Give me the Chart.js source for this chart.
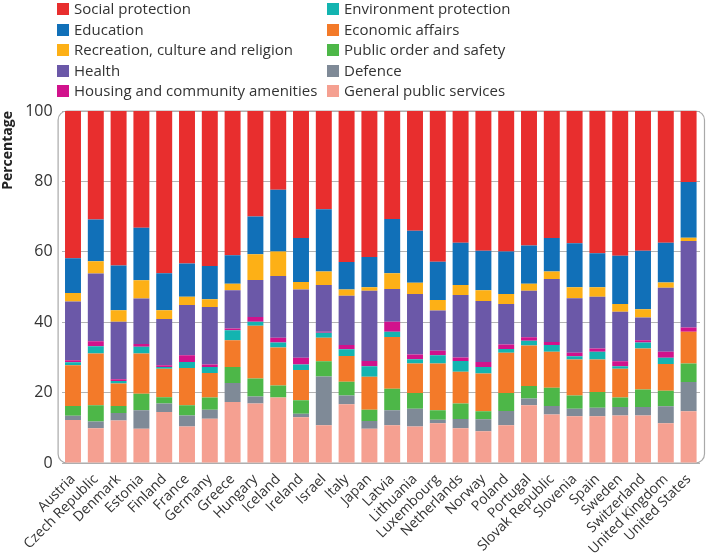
<!DOCTYPE html>
<html>
<head>
<meta charset="utf-8">
<script src="https://cdn.jsdelivr.net/npm/chart.js@4/dist/chart.umd.min.js"></script>
<style>
  body { margin: 0; background: #fff; }
  #wrap { position: relative; width: 706px; height: 555px; }
  #legend { position: absolute; left: 0; top: 0; width: 706px; height: 100px; font-family: "Open Sans", sans-serif; font-size: 15px; color: #333; }
  .item { position: absolute; height: 20px; line-height: 20px; white-space: nowrap; }
  .box { position: absolute; left: 0; top: 4px; width: 12px; height: 12px; }
  .lbl { position: absolute; left: 17px; top: -1px; }
</style>
</head>
<body>
<div id="wrap">
  <canvas id="chart" width="706" height="555"></canvas>
  <div id="legend"></div>
</div>
<script>
document.addEventListener("DOMContentLoaded", function () {
    // Countries on the x axis
    const countries = ['Austria', 'Czech Republic', 'Denmark', 'Estonia', 'Finland', 'France', 'Germany',
        'Greece', 'Hungary', 'Iceland', 'Ireland', 'Israel', 'Italy', 'Japan', 'Latvia', 'Lithuania',
        'Luxembourg', 'Netherlands', 'Norway', 'Poland', 'Portugal', 'Slovak Republic', 'Slovenia',
        'Spain', 'Sweden', 'Switzerland', 'United Kingdom', 'United States'];

    // Share of spending (%), bottom of the stack first
    const generalPublicServices = [12.2, 9.9, 12.1, 9.7, 14.5, 10.4, 12.6, 17.3, 16.9, 18.6, 13.0, 10.7, 16.7, 9.7, 10.7, 10.4, 11.3, 9.9, 9.0, 10.7, 16.4, 13.8, 13.3, 13.3, 13.5, 13.5, 11.3, 14.7];
    const defence = [1.2, 1.9, 2.1, 5.3, 2.4, 3.1, 2.5, 5.4, 2.0, 0, 1.0, 13.9, 2.5, 2.2, 4.3, 5.0, 1.0, 2.6, 3.4, 4.1, 1.9, 2.4, 2.1, 2.4, 2.4, 2.4, 4.8, 8.3];
    const publicOrder = [2.8, 4.6, 2.0, 4.7, 1.8, 2.9, 3.5, 4.6, 5.1, 3.4, 3.8, 4.3, 3.9, 3.2, 6.1, 4.5, 2.7, 4.4, 2.3, 5.1, 3.6, 5.2, 3.8, 4.5, 2.7, 5.0, 4.4, 5.3];
    const economicAffairs = [11.6, 14.7, 6.4, 11.4, 8.1, 10.6, 7.0, 7.6, 15.0, 10.8, 8.6, 6.7, 7.3, 9.4, 14.7, 8.4, 13.3, 9.0, 10.7, 11.4, 11.5, 10.2, 10.2, 9.2, 8.2, 11.6, 7.6, 9.0];
    const environmentProtection = [0.8, 2.1, 0.7, 1.9, 0.5, 1.7, 1.7, 2.8, 1.1, 1.4, 1.6, 1.4, 1.9, 3.0, 1.5, 1.2, 2.3, 3.1, 1.9, 1.1, 1.3, 1.9, 0.9, 2.2, 0.7, 1.7, 1.8, 0];
    const housing = [0.6, 1.4, 0.5, 0.8, 0.5, 1.9, 0.7, 0.5, 1.4, 1.4, 1.9, 0.3, 1.2, 1.5, 2.8, 1.3, 1.3, 1.0, 1.4, 1.3, 1.0, 0.9, 1.0, 0.9, 1.4, 0.7, 1.7, 1.2];
    const health = [16.7, 19.2, 16.3, 12.9, 13.1, 14.3, 16.3, 10.9, 10.5, 17.5, 19.4, 13.3, 14.0, 19.9, 9.3, 17.2, 11.4, 17.7, 17.3, 11.5, 13.2, 17.9, 15.5, 14.7, 14.1, 6.4, 18.2, 24.6];
    const recreation = [2.4, 3.5, 3.3, 5.2, 2.5, 2.3, 2.2, 1.8, 7.3, 7.0, 2.1, 3.8, 1.8, 1.0, 4.5, 3.2, 3.0, 2.9, 3.1, 2.8, 2.0, 2.1, 3.1, 2.7, 2.2, 2.4, 1.5, 0.9];
    const education = [9.9, 11.9, 12.7, 14.9, 10.5, 9.5, 9.5, 8.1, 10.7, 17.5, 12.5, 17.7, 7.8, 8.6, 15.4, 14.8, 10.9, 12.0, 11.2, 12.1, 10.9, 9.5, 12.5, 9.7, 13.7, 16.6, 11.3, 15.8];
    const socialProtection = [41.8, 30.8, 43.9, 33.2, 46.1, 43.3, 44.0, 41.0, 30.0, 22.4, 36.1, 27.9, 42.9, 41.5, 30.7, 34.0, 42.8, 37.4, 39.7, 39.9, 38.2, 36.1, 37.6, 40.4, 41.1, 39.7, 37.4, 20.2];

    const yTicks = [0, 20, 40, 60, 80, 100];

    // Series in stacking order, with colours
    const series = [
        { label: 'General public services', data: generalPublicServices, color: '#f5a091' },
        { label: 'Defence', data: defence, color: '#7f8a97' },
        { label: 'Public order and safety', data: publicOrder, color: '#4db748' },
        { label: 'Economic affairs', data: economicAffairs, color: '#f37a29' },
        { label: 'Environment protection', data: environmentProtection, color: '#13b4b0' },
        { label: 'Housing and community amenities', data: housing, color: '#d1128c' },
        { label: 'Health', data: health, color: '#6b58a8' },
        { label: 'Recreation, culture and religion', data: recreation, color: '#fdb016' },
        { label: 'Education', data: education, color: '#1170b8' },
        { label: 'Social protection', data: socialProtection, color: '#e82e2e' }
    ];

    // Legend in two columns, as in the original figure
    const legendLeft = ['Social protection', 'Education', 'Recreation, culture and religion', 'Health', 'Housing and community amenities'];
    const legendRight = ['Environment protection', 'Economic affairs', 'Public order and safety', 'Defence', 'General public services'];
    const legend = document.getElementById('legend');
    function addItems(names, x) {
        names.forEach((name, i) => {
            const s = series.find(d => d.label === name);
            const el = document.createElement('div');
            el.className = 'item';
            el.style.left = x + 'px';
            el.style.top = (-1 + i * 20.6) + 'px';
            el.innerHTML = '<span class="box" style="background:' + s.color + '"></span><span class="lbl">' + name + '</span>';
            legend.appendChild(el);
        });
    }
    addItems(legendLeft, 57);
    addItems(legendRight, 327);

    // Rounded frame around the plot
    const framePlugin = {
        id: 'frame',
        beforeDatasetsDraw(chart) {
            const a = chart.chartArea;
            const c = chart.ctx;
            c.save();
            c.strokeStyle = '#a9a9a9';
            c.lineWidth = 1.2;
            c.beginPath();
            c.roundRect(a.left - 3.5, a.top, a.right - a.left + 8, a.bottom - a.top, 9);
            c.stroke();
            c.restore();
        }
    };

    const ctx = document.getElementById('chart').getContext('2d');
    new Chart(ctx, {
        type: 'bar',
        data: {
            labels: countries,
            datasets: series.map(s => ({
                label: s.label,
                data: s.data,
                backgroundColor: s.color,
                borderWidth: 0,
                barPercentage: 0.7,
                categoryPercentage: 1.0
            }))
        },
        options: {
            responsive: false,
            animation: false,
            layout: { padding: { top: 111, right: 6, left: 0, bottom: 0 } },
            plugins: {
                legend: { display: false },
                tooltip: { enabled: false }
            },
            scales: {
                x: {
                    stacked: true,
                    grid: { display: false },
                    border: { display: false },
                    afterFit: (s) => { s.height = 92; },
                    ticks: {
                        autoSkip: false,
                        minRotation: 45,
                        maxRotation: 45,
                        padding: 0,
                        color: '#333',
                        font: { family: 'Open Sans', size: 14 }
                    }
                },
                y: {
                    stacked: true,
                    min: 0,
                    max: 100,
                    afterBuildTicks: (s) => { s.ticks = yTicks.map(v => ({ value: v })); },
                    afterFit: (s) => { s.width = 61.6; },
                    grid: { color: '#b3b3b3', lineWidth: 1, drawTicks: false },
                    border: { display: false },
                    ticks: {
                        padding: 9,
                        color: '#333',
                        font: { family: 'Open Sans', size: 16 }
                    },
                    title: {
                        display: true,
                        text: 'Percentage',
                        align: 'end',
                        padding: 0,
                        color: '#222',
                        font: { family: 'Open Sans', size: 14, weight: 'bold' }
                    }
                }
            }
        },
        plugins: [framePlugin]
    });
});
</script>
</body>
</html>
